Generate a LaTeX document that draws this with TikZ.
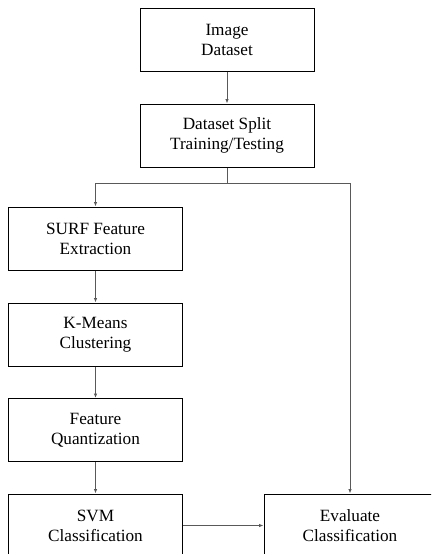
\documentclass[tikz,border=0pt]{standalone}
\usepackage{fontspec}
\setmainfont{Liberation Serif}
\usetikzlibrary{arrows.meta}
\begin{document}
\begin{tikzpicture}
			[x=1pt,y=-1pt,every node/.style={rectangle,
			draw=black, line width=1pt, align=center,
			minimum width=174pt, minimum height=63pt,
			font=\fontsize{17.2}{20}\selectfont}]
			\clip (0,0) rectangle (431,554);

			\node (img)   at (227,39.5)  {Image\\Dataset};
			\node (split) at (227,135.5) {Dataset Split\\Training/Testing};

			\node (surf)  at (95.5,238.5) {SURF Feature\\Extraction};
			\node (kmean) at (95.5,334.5) {K-Means\\Clustering};
			\node (quant) at (95.5,430)   {Feature\\Quantization};
			\node (svm)   at (95.5,525.5) {SVM\\Classification};

			\node [minimum width=172pt] (eval) at (350,525.5)
				{Evaluate\\Classification};

			%%ramo
			\coordinate (bm) at (227,183);

			\foreach \from/\to in {img/split,surf/kmean,kmean/quant,
			quant/svm,svm/eval}
			\draw[-{Latex[length=4.5pt,width=3.5pt]}, draw=black!65,
				line width=0.9pt] (\from) -- (\to);

			\draw[draw=black!65, line width=0.9pt] (split) -- (bm);
			\foreach \to in {surf,eval}
			\draw[-{Latex[length=4.5pt,width=3.5pt]}, draw=black!65,
				line width=0.9pt] (bm) -| (\to);
		\end{tikzpicture}
\end{document}
